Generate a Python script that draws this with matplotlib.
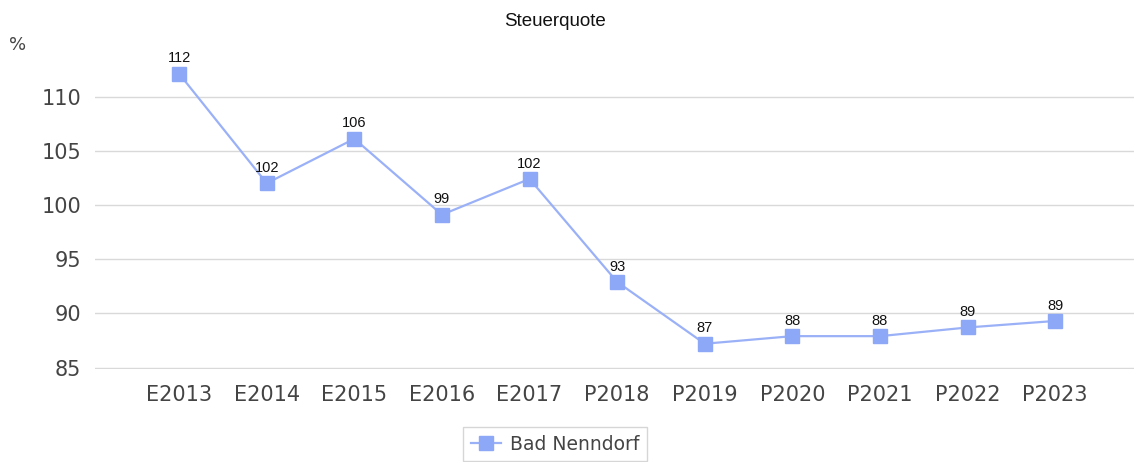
import matplotlib.pyplot as plt
import numpy as np

years = ['E2013', 'E2014', 'E2015', 'E2016', 'E2017', 'P2018',
         'P2019', 'P2020', 'P2021', 'P2022', 'P2023']
quote = [112.1, 102.0, 106.1, 99.1, 102.4, 92.9, 87.2, 87.9, 87.9, 88.7, 89.3]
y_ticks = [85, 90, 95, 100, 105, 110]

fig = plt.figure(figsize=(11.34, 4.62), dpi=100)
ax = fig.add_axes([0.0838, 0.202, 0.9162, 0.683])

x = np.arange(len(years))
ax.plot(x, quote, color='#9bb1f7', lw=1.6, marker='s', markersize=9.5,
        markerfacecolor='#8ea8f8', markeredgecolor='#8ea8f8', label='Bad Nenndorf', zorder=3)

for xi, v in zip(x, quote):
    ax.annotate(str(int(round(v))), (xi, v), xytext=(0, 6), textcoords='offset points',
                ha='center', va='bottom', fontsize=10.5, family='Liberation Sans', color='#111111')

ax.set_xlim(-0.96, 10.9)
ax.set_ylim(84.9, 114)
ax.set_yticks(y_ticks)
ax.set_xticks(x)
ax.set_xticklabels(years)
ax.tick_params(length=0, labelsize=15, colors='#444444', pad=12)
ax.tick_params(axis='y', pad=10)
ax.grid(axis='y', color='#d9d9d9', lw=1)
ax.set_axisbelow(True)
for s in ax.spines.values():
    s.set_visible(False)

fig.text(555 / 1134, 1 - 22 / 462, 'Steuerquote', ha='center', va='center',
         fontsize=13.5, family='Liberation Sans', color='#111111')
fig.text(18 / 1134, 1 - 45 / 462, '%', ha='center', va='center', fontsize=13, color='#444444')

leg = fig.legend(loc='upper center', bbox_to_anchor=(555 / 1134, 1 - 427 / 462),
                 fontsize=13.5, frameon=True, fancybox=False, borderpad=0.4,
                 handlelength=1.6, handletextpad=0.5, borderaxespad=0)
leg.get_frame().set_edgecolor('#cccccc')
leg.get_frame().set_linewidth(1)
for t in leg.get_texts():
    t.set_color('#444444')

fig.savefig('out.png', dpi=100)
